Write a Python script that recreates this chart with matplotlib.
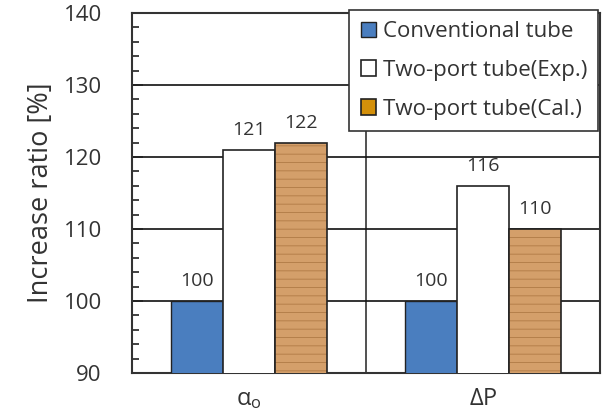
import numpy as np
import matplotlib.pyplot as plt
from matplotlib.ticker import MultipleLocator

plt.rcParams['font.family'] = ['Open Sans', 'DejaVu Sans']
plt.rcParams['mathtext.default'] = 'regular'
plt.rcParams['hatch.linewidth'] = 0.6

categories = [r'$\alpha_o$', r'$\Delta$P']
conventional = [100, 100]
twoport_exp = [121, 116]
twoport_cal = [122, 110]
series_names = ['Conventional tube', 'Two-port tube(Exp.)', 'Two-port tube(Cal.)']

fig = plt.figure(figsize=(6.07, 4.2), dpi=100)
ax = fig.add_axes([0.218, 0.112, 0.770, 0.857])

x = np.arange(len(categories))
w = 0.222
blue = '#4a7ebf'
wood = '#d49f6a'

b1 = ax.bar(x - w, conventional, w, color=blue, edgecolor='#222222', linewidth=1, zorder=3)
b2 = ax.bar(x, twoport_exp, w, color='white', edgecolor='#222222', linewidth=1.2, zorder=3)
# wood-like fill: hatched brown bar under a black outline
ax.bar(x + w, twoport_cal, w, color=wood, edgecolor='#b07a45', hatch='--', linewidth=0, zorder=3)
b3 = ax.bar(x + w, twoport_cal, w, color='none', edgecolor='#222222', linewidth=1.2, zorder=4)

for bars, vals in [(b1, conventional), (b2, twoport_exp), (b3, twoport_cal)]:
    for r, v in zip(bars, vals):
        ax.text(r.get_x() + r.get_width() / 2, v + 1.5, str(v), ha='center', va='bottom',
                fontsize=14, color='#333333', zorder=5)

ax.set_ylim(90, 140)
ax.set_xlim(-0.5, 1.5)
ax.yaxis.set_major_locator(MultipleLocator(10))
ax.yaxis.set_minor_locator(MultipleLocator(2))
ax.tick_params(axis='y', which='major', direction='in', length=8, width=1.2, labelsize=16, colors='#222222',
               labelcolor='#333333', pad=22)
ax.tick_params(axis='y', which='minor', direction='in', length=5, width=1.2, colors='#222222')
ax.set_xticks(x)
ax.set_xticklabels(categories)
ax.tick_params(axis='x', length=0, labelsize=17, pad=10, labelcolor='#333333')
ax.grid(axis='y', which='major', color='#111111', linewidth=1.2, zorder=0)
ax.axvline(0.5, color='#333333', linewidth=1.2, zorder=1)
for s in ax.spines.values():
    s.set_linewidth(1.5)
    s.set_color('#333333')

ax.set_ylabel('Increase ratio [%]', fontsize=19.5, color='#333333', labelpad=6)

leg = ax.legend([b1, b2, b3], series_names, loc='upper right', fontsize=16,
                frameon=True, fancybox=False, edgecolor='#333333', framealpha=1,
                handlelength=0.7, handleheight=0.7, handletextpad=0.3, borderpad=0.5,
                borderaxespad=0, labelspacing=0.8, bbox_to_anchor=(0.997, 1.008))
leg.get_frame().set_linewidth(1.2)
leg.legend_handles[2].set_facecolor('#d4900a')
leg.set_zorder(10)
for t in leg.get_texts():
    t.set_color('#333333')

fig.savefig('out.png', dpi=100)
